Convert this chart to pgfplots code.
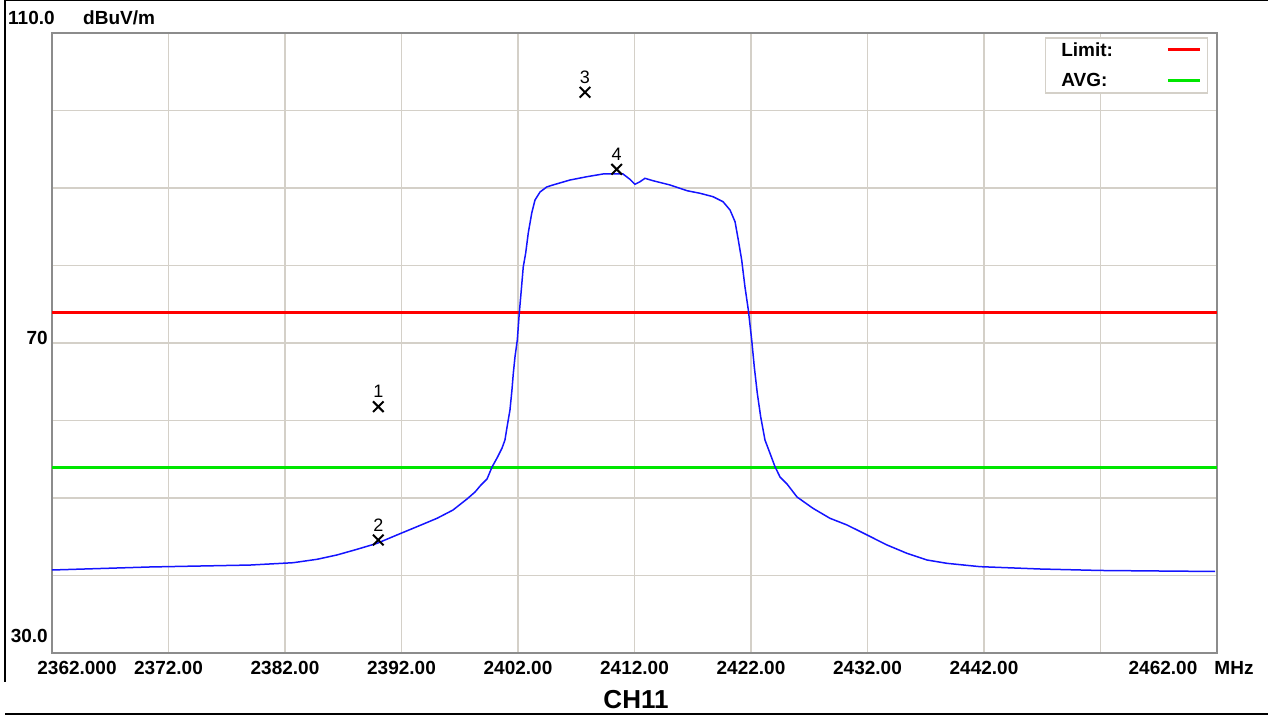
\documentclass[border=0pt]{standalone}
\usepackage{fontspec}
\setmainfont{Liberation Sans}
\usepackage{pgfplots}
\pgfplotsset{compat=1.18}
\definecolor{gridgray}{RGB}{212,208,200}
\definecolor{framegray}{RGB}{140,140,140}
\definecolor{traceblue}{RGB}{20,20,255}
\definecolor{limred}{RGB}{255,0,0}
\definecolor{avggreen}{RGB}{0,230,0}
\newcommand{\lbl}{\bfseries\fontsize{19}{19}\selectfont}

\pgfplotstableread{
x y
2362.00 40.71
2370.41 41.10
2379.00 41.35
2382.69 41.65
2384.75 42.09
2386.46 42.65
2388.18 43.38
2389.90 44.15
2391.61 45.23
2393.33 46.30
2395.05 47.38
2396.42 48.45
2397.62 49.87
2398.31 50.77
2398.82 51.68
2399.34 52.45
2399.77 54.00
2400.20 55.16
2400.63 56.45
2400.88 57.48
2401.06 59.16
2401.31 61.35
2401.48 63.94
2401.60 66.13
2401.74 68.19
2401.94 70.39
2402.11 73.87
2402.26 76.45
2402.45 79.81
2402.66 81.61
2402.88 84.19
2403.18 86.77
2403.46 88.45
2403.89 89.48
2404.46 90.13
2405.00 90.39
2406.46 91.03
2407.92 91.46
2409.30 91.81
2411.01 91.81
2411.61 91.12
2412.04 90.48
2412.47 90.81
2412.90 91.25
2413.59 90.94
2415.05 90.39
2416.51 89.65
2417.62 89.32
2418.74 88.88
2419.60 88.23
2420.20 87.16
2420.63 85.65
2420.91 83.29
2421.20 80.71
2421.48 77.26
2421.77 74.26
2422.06 70.39
2422.28 66.94
2422.54 63.51
2422.83 60.49
2423.20 57.48
2423.63 55.77
2424.06 54.04
2424.49 52.71
2425.09 51.81
2425.95 50.13
2427.32 48.67
2428.78 47.38
2430.24 46.52
2431.96 45.23
2433.67 43.94
2435.39 42.86
2437.11 42.00
2438.82 41.57
2441.66 41.14
2446.81 40.84
2451.96 40.65
2457.11 40.58
2461.83 40.52
}\trace

\begin{document}
\begin{tikzpicture}[x=1pt,y=1pt]
\begin{axis}[
  at={(52pt,63pt)}, anchor=south west,
  scale only axis, width=1165pt, height=620pt,
  xmin=2362, xmax=2462, ymin=30, ymax=110,
  xtick={2362,2372,2382,2392,2402,2412,2422,2432,2442,2452,2462},
  xticklabels={,2372.00,2382.00,2392.00,2402.00,2412.00,2422.00,2432.00,2442.00,,},
  ytick={30,40,50,60,70,80,90,100,110}, yticklabels={},
  major tick length=0pt,
  grid=major,
  major grid style={gridgray, line width=1.5pt},
  axis line style={framegray, line width=2.5pt},
  xticklabel style={font=\lbl, anchor=center, yshift=-15pt},
  legend plot pos=right,
  legend cell align=left,
  legend image code/.code={\draw[#1] (0pt,0pt) -- (32pt,0pt);},
  legend style={at={(0.9923,0.9935)}, anchor=north east, draw=gridgray,
    line width=1.5pt, fill=white, font=\lbl, inner xsep=6pt, inner ysep=2.5pt,
    row sep=12pt},
  clip=false,
]
\addplot[limred, line width=3pt] coordinates {(2362,74) (2462,74)};
\addlegendentry{\makebox[111pt][l]{\hspace{8pt}Limit:}}
\addplot[avggreen, line width=3pt] coordinates {(2362,54) (2462,54)};
\addlegendentry{\makebox[111pt][l]{\hspace{8pt}AVG:}}
\addplot[traceblue, line width=1.5pt, forget plot] table[x=x,y=y] {\trace};
\addplot[only marks, mark=x, mark size=7.5pt, black, line width=2pt, forget plot,
  point meta=explicit symbolic, nodes near coords,
  every node near coord/.append style={anchor=south, inner sep=0pt, yshift=8pt,
    font=\fontsize{18}{18}\selectfont, text=black}]
  coordinates {(2390.01,61.78) [1] (2390.01,44.58) [2] (2407.75,102.35) [3] (2410.47,92.41) [4]};
\end{axis}
\node[anchor=west, inner sep=0pt, font=\lbl] at (8,698) {110.0};
\node[anchor=west, inner sep=0pt, font=\lbl] at (83,698) {dBuV/m};
\node[anchor=east, inner sep=0pt, font=\lbl] at (48,378) {70};
\node[anchor=east, inner sep=0pt, font=\lbl] at (48,80) {30.0};
\node[inner sep=0pt, font=\lbl] at (77,48) {2362.000};
\node[inner sep=0pt, font=\lbl] at (1163,48) {2462.00};
\node[inner sep=0pt, font=\lbl] at (1234,48) {MHz};
\node[inner sep=0pt, font=\bfseries\fontsize{26}{26}\selectfont] at (636,16) {CH11};
\draw[line width=1.5pt] (5,716) -- (5,34);
\draw[line width=1pt] (5,715.5) -- (1268,715.5);
\draw[line width=1.5pt] (5,2) -- (1268,2);
\pgfresetboundingbox
\useasboundingbox (0,0) rectangle (1268,716);
\end{tikzpicture}
\end{document}
